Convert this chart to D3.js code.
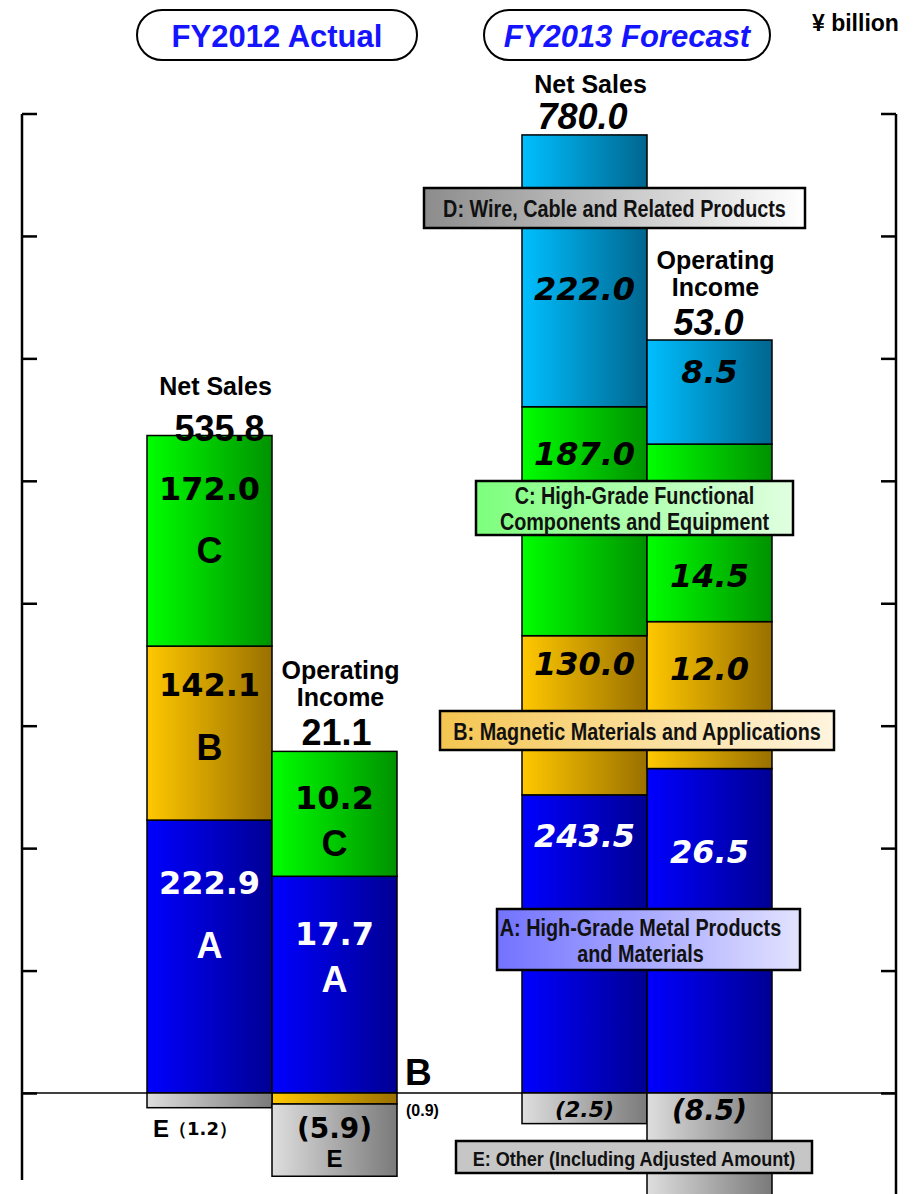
<!DOCTYPE html>
<html>
<head>
<meta charset="utf-8">
<script src="https://cdn.jsdelivr.net/npm/d3@7"></script>
<style>
  body { margin: 0; background: #fff; }
  svg { display: block; }
  text { font-family: "Liberation Sans", Arial, sans-serif; font-weight: bold; }
</style>
</head>
<body>
<svg id="chart" width="924" height="1194"></svg>
<script>
// ---- data (¥ billion) ----
var periods = ["FY2012", "FY2013"];
var periodTitles = ["FY2012 Actual", "FY2013 Forecast"];
var measures = ["Net Sales", "Operating Income"];
var segments = ["A", "B", "C", "D", "E"];

// values in segment order A, B, C, D, E
var netSales2012 = [222.9, 142.1, 172.0, 0, -1.2];
var netSales2013 = [243.5, 130.0, 187.0, 222.0, -2.5];
var opIncome2012 = [17.7, -0.9, 10.2, 0, -5.9];
var opIncome2013 = [26.5, 12.0, 14.5, 8.5, -8.5];

var netSalesTotals = [535.8, 780.0];
var opIncomeTotals = [21.1, 53.0];

var salesTicks = [0, 100, 200, 300, 400, 500, 600, 700, 800];
var incomeTicks = [0, 10, 20, 30, 40, 50, 60, 70, 80];

var segmentLabels = [
  ["A: High-Grade Metal Products", "and Materials"],
  ["B: Magnetic Materials and Applications"],
  ["C: High-Grade Functional", "Components and Equipment"],
  ["D: Wire, Cable and Related Products"],
  ["E: Other (Including Adjusted Amount)"]
];

// ---- styles / layout ----
var segColors = {
  A: ["#0000ff", "#000094"],
  B: ["#ffc800", "#9a7000"],
  C: ["#00ff00", "#009200"],
  D: ["#00bfff", "#00668f"],
  E: ["#dedede", "#7a7a7a"]
};
var boxColors = {
  A: ["#7272ff", "#e2e2ff"],
  B: ["#f4c550", "#fff4de"],
  C: ["#7dff7d", "#e0ffe0"],
  D: ["#8c8c8c", "#ffffff"],
  E: ["#c6c6c6", "#c6c6c6"]
};
// legend boxes [x, y, w, h]
var boxLayout = {
  A: [497, 909, 303, 61],
  B: [440, 711, 394, 39],
  C: [476, 481, 317, 54],
  D: [424, 188, 381, 40],
  E: [456, 1141, 356, 32]
};
// value label centre, px from segment top (A, B, C, D)
var labelDy = {
  "FY2012|Net Sales": [63, 39, 53, 0],
  "FY2012|Operating Income": [58, 0, 47, 0],
  "FY2013|Net Sales": [41, 28, 47, 154],
  "FY2013|Operating Income": [83, 47, 132, 32]
};

var svg = d3.select("#chart");
var defs = svg.append("defs");

function addGradient(id, c) {
  var g = defs.append("linearGradient").attr("id", id)
    .attr("x1", "0%").attr("x2", "100%").attr("y1", "0%").attr("y2", "0%");
  g.append("stop").attr("offset", "0%").attr("stop-color", c[0]);
  g.append("stop").attr("offset", "100%").attr("stop-color", c[1]);
}
segments.forEach(function (k) {
  addGradient("bar-" + k, segColors[k]);
  addGradient("box-" + k, boxColors[k]);
});

// squeeze a text horizontally (no narrow font installed)
function condense(sel, f) {
  sel.each(function () {
    var w = this.getComputedTextLength();
    d3.select(this).attr("textLength", w * f).attr("lengthAdjust", "spacingAndGlyphs");
  });
}

// ---- scales ----
var base = 1093;
var ySales = d3.scaleLinear().domain([0, 800]).range([base, 113.5]);
var yIncome = d3.scaleLinear().domain([0, 80]).range([base, 113.5]);

var x0 = d3.scaleBand().domain(periods).range([84.5, 834.5]);
var x1 = d3.scaleBand().domain(measures).range([0, 250]);
function barX(p, m) { return x0(p) + (x0.bandwidth() - 250) / 2 + x1(m); }

// ---- rows ----
var rows = [];
[[netSales2012, opIncome2012], [netSales2013, opIncome2013]].forEach(function (pair, i) {
  pair.forEach(function (vals, j) {
    var r = { period: periods[i], measure: measures[j] };
    segments.forEach(function (k, s) { r[k] = vals[s]; });
    rows.push(r);
  });
});

var stack = d3.stack().keys(segments).offset(d3.stackOffsetDiverging);
var series = stack(rows);

// ---- axes ----
var leftAxis = svg.append("g").attr("transform", "translate(22,0)")
  .call(d3.axisRight(ySales).tickValues(salesTicks).tickSize(15).tickFormat(""));
var rightAxis = svg.append("g").attr("transform", "translate(896,0)")
  .call(d3.axisLeft(yIncome).tickValues(incomeTicks).tickSize(15).tickFormat(""));
[leftAxis, rightAxis].forEach(function (a) {
  a.select(".domain").remove();
  a.selectAll(".tick line").attr("stroke", "#000").attr("stroke-width", 2.5);
});
svg.append("line").attr("x1", 22).attr("x2", 22).attr("y1", 114).attr("y2", 1180)
  .attr("stroke", "#000").attr("stroke-width", 2.5);
svg.append("line").attr("x1", 896).attr("x2", 896).attr("y1", 114).attr("y2", 1194)
  .attr("stroke", "#000").attr("stroke-width", 2.5);
svg.append("line").attr("x1", 22).attr("x2", 896).attr("y1", base).attr("y2", base)
  .attr("stroke", "#000").attr("stroke-width", 1.5);

// ---- bars ----
// negative parts of the sales bars are drawn on the income scale, as in the source
function yFor(row, v) {
  if (row.measure === "Net Sales" && v >= 0) return ySales(v);
  return yIncome(v);
}

var bars = svg.append("g");
series.forEach(function (s) {
  s.forEach(function (d) {
    var row = d.data;
    if (row[s.key] === 0) return;
    var ya = yFor(row, d[0]), yb = yFor(row, d[1]);
    bars.append("rect")
      .attr("x", barX(row.period, row.measure))
      .attr("width", x1.bandwidth())
      .attr("y", Math.min(ya, yb))
      .attr("height", Math.abs(ya - yb))
      .attr("fill", "url(#bar-" + s.key + ")")
      .attr("stroke", "#000")
      .attr("stroke-width", 1.5);
  });
});

// ---- value labels in positive segments ----
var fmt = d3.format(".1f");
var labels = svg.append("g");
series.forEach(function (s, si) {
  if (s.key === "E") return;
  s.forEach(function (d) {
    var row = d.data, v = row[s.key];
    if (v <= 0) return;
    var top = yFor(row, d[1]);
    var cx = barX(row.period, row.measure) + x1.bandwidth() / 2;
    var cy = top + labelDy[row.period + "|" + row.measure][si];
    var forecast = row.period === "FY2013";
    labels.append("text")
      .attr("x", cx).attr("y", cy)
      .attr("text-anchor", "middle").attr("dominant-baseline", "central")
      .style("font-family", "'DejaVu Sans', sans-serif")
      .style("font-style", forecast ? "italic" : "normal")
      .style("font-size", "32px")
      .attr("fill", s.key === "A" ? "#fff" : "#000")
      .text(fmt(v));
    if (!forecast) {
      var gap = row.measure === "Net Sales" ? 62 : 45;
      labels.append("text")
        .attr("x", cx).attr("y", cy + gap)
        .attr("text-anchor", "middle").attr("dominant-baseline", "central")
        .style("font-size", "36px")
        .attr("fill", s.key === "A" ? "#fff" : "#000")
        .text(s.key);
    }
  });
});

// ---- negative segment labels ----
function neg(v) { return "(" + fmt(Math.abs(v)) + ")"; }
var nsE = barX("FY2012", "Net Sales");
var t1 = labels.append("text").attr("x", nsE + 48).attr("y", 1128)
  .attr("text-anchor", "middle").attr("dominant-baseline", "central");
t1.append("tspan").style("font-size", "24px").text("E");
t1.append("tspan").style("font-size", "18px").style("font-family", "'DejaVu Sans', sans-serif")
  .text("\uff08" + fmt(Math.abs(netSales2012[4])) + "\uff09");

var oiX = barX("FY2012", "Operating Income") + x1.bandwidth() / 2;
labels.append("text").attr("x", oiX).attr("y", 1128)
  .attr("text-anchor", "middle").attr("dominant-baseline", "central")
  .style("font-family", "'DejaVu Sans', sans-serif").style("font-size", "28px")
  .text(neg(opIncome2012[4]));
labels.append("text").attr("x", oiX).attr("y", 1158)
  .attr("text-anchor", "middle").attr("dominant-baseline", "central")
  .style("font-size", "24px").text("E");
var bx = barX("FY2012", "Operating Income") + x1.bandwidth();
labels.append("text").attr("x", bx + 8).attr("y", 1072)
  .attr("dominant-baseline", "central").style("font-size", "37px").text("B");
labels.append("text").attr("x", bx + 9).attr("y", 1110)
  .attr("dominant-baseline", "central").style("font-size", "16px").text(neg(opIncome2012[1]));

labels.append("text").attr("x", barX("FY2013", "Net Sales") + x1.bandwidth() / 2).attr("y", 1109)
  .attr("text-anchor", "middle").attr("dominant-baseline", "central")
  .style("font-family", "'DejaVu Sans', sans-serif").style("font-style", "italic")
  .style("font-size", "22px")
  .text(neg(netSales2013[4]));
labels.append("text").attr("x", barX("FY2013", "Operating Income") + x1.bandwidth() / 2).attr("y", 1110)
  .attr("text-anchor", "middle").attr("dominant-baseline", "central")
  .style("font-family", "'DejaVu Sans', sans-serif").style("font-style", "italic")
  .style("font-size", "28px")
  .text(neg(opIncome2013[4]));

// ---- totals above bars ----
var totalsLayout = {
  "FY2012|Net Sales": { dx: 10, dy: -7, ty: [-50] },
  "FY2013|Net Sales": { dx: -2, dy: -18, ty: [-51] },
  "FY2012|Operating Income": { dx: 2, dy: -19, ty: [-81, -54] },
  "FY2013|Operating Income": { dx: -1, dy: -18, ty: [-80, -53] }
};
periods.forEach(function (p, i) {
  measures.forEach(function (m) {
    var total = m === "Net Sales" ? netSalesTotals[i] : opIncomeTotals[i];
    // the bar top is the sum of the positive segments
    var row = rows.filter(function (r) { return r.period === p && r.measure === m; })[0];
    var pos = segments.reduce(function (a, k) { return a + Math.max(0, row[k]); }, 0);
    var top = yFor(row, pos);
    var cx = barX(p, m) + x1.bandwidth() / 2;
    var L = totalsLayout[p + "|" + m];
    var words = m === "Net Sales" ? ["Net Sales"] : ["Operating", "Income"];
    words.forEach(function (w, wi) {
      labels.append("text").attr("x", cx + 6).attr("y", top + L.ty[wi])
        .attr("text-anchor", "middle").attr("dominant-baseline", "central")
        .style("font-size", "25px").text(w);
    });
    labels.append("text").attr("x", cx + L.dx).attr("y", top + L.dy)
      .attr("text-anchor", "middle").attr("dominant-baseline", "central")
      .style("font-size", "36px").style("font-style", p === "FY2013" ? "italic" : "normal")
      .text(fmt(total));
  });
});

// ---- segment legend boxes ----
segments.forEach(function (k, i) {
  var b = boxLayout[k];
  var g = svg.append("g");
  g.append("rect").attr("x", b[0]).attr("y", b[1]).attr("width", b[2]).attr("height", b[3])
    .attr("fill", "url(#box-" + k + ")").attr("stroke", "#000").attr("stroke-width", 2.5);
  var lines = segmentLabels[i];
  var lh = 26;
  lines.forEach(function (ln, li) {
    g.append("text")
      .attr("x", b[0] + b[2] / 2 + (k === "A" ? -8 : 0))
      .attr("y", b[1] + b[3] / 2 + (li - (lines.length - 1) / 2) * lh + 1)
      .attr("text-anchor", "middle").attr("dominant-baseline", "central")
      .style("font-size", k === "E" ? "21px" : "23px").attr("fill", "#111")
      .text(ln)
      .call(condense, 0.86);
  });
});

// ---- period headers ----
var headerBoxes = [[137, 10, 280, 50], [484, 10, 286, 50]];
periodTitles.forEach(function (t, i) {
  var b = headerBoxes[i];
  svg.append("rect").attr("x", b[0]).attr("y", b[1]).attr("width", b[2]).attr("height", b[3])
    .attr("rx", 25).attr("ry", 25).attr("fill", "#fff").attr("stroke", "#000").attr("stroke-width", 2);
  svg.append("text").attr("x", b[0] + b[2] / 2).attr("y", b[1] + b[3] / 2 + 1)
    .attr("text-anchor", "middle").attr("dominant-baseline", "central")
    .style("font-size", "31px").style("font-style", i === 1 ? "italic" : "normal")
    .attr("fill", "#1414ff").text(t);
});
svg.append("text").attr("x", 812).attr("y", 23).attr("dominant-baseline", "central")
  .style("font-size", "23px").text("\u00a5 billion");
</script>
</body>
</html>
